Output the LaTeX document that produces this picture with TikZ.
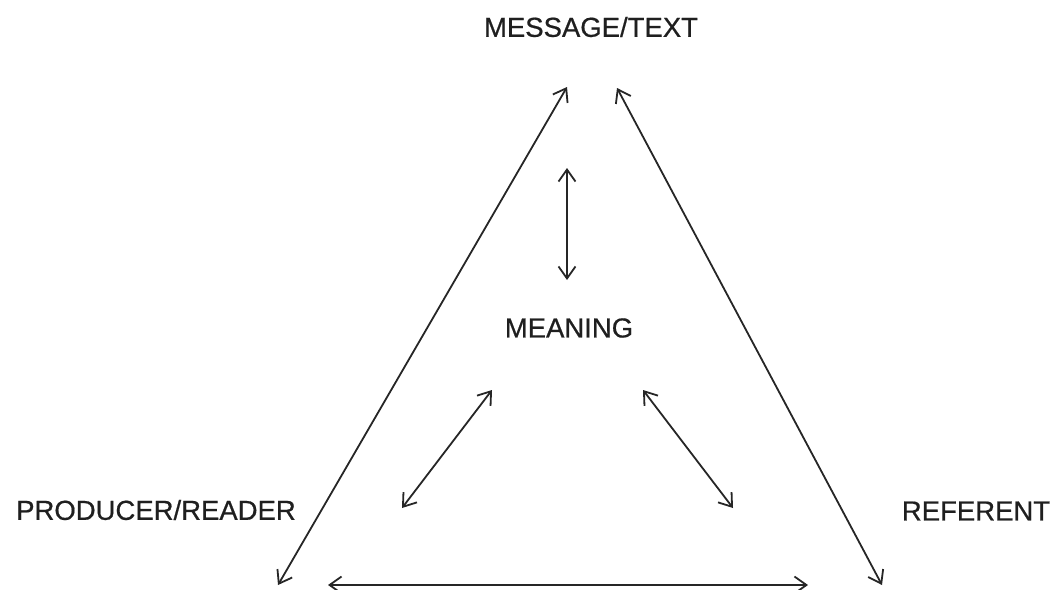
\documentclass[tikz,border=0pt]{standalone}
\usepackage{fontspec}
\setmainfont{Liberation Sans}[FakeBold=0.6]
\usetikzlibrary{arrows.meta}
\begin{document}
\begin{tikzpicture}[x=1pt,y=-1pt,
  lbl/.style={inner sep=0pt, font=\fontsize{27.5}{30}\selectfont, text=black!88},
  link/.style={draw=black!85, line width=1.8pt, {Straight Barb[length=12pt,width=17pt]}-{Straight Barb[length=12pt,width=17pt]}},
  pt/.style={inner sep=0pt, minimum size=0pt}]
\useasboundingbox (0,0) rectangle (1056,589);
\node[lbl] (msg) at (591,27) {MESSAGE/TEXT};
\node[lbl] (mean) at (569,328) {MEANING};
\node[lbl] (prod) at (156,510) {PRODUCER/READER};
\node[lbl] (ref) at (976,511) {REFERENT};
% end points
\coordinate (lt) at (567,87);
\coordinate (lb) at (278,585);
\coordinate (rt) at (617,88);
\coordinate (rb) at (882,585);
\coordinate (vt) at (567,168);
\coordinate (vb) at (567,280);
\coordinate (ilt) at (492,390);
\coordinate (ilb) at (402,508);
\coordinate (irt) at (643,390);
\coordinate (irb) at (733,508);
\coordinate (bl) at (328,585);
\coordinate (br) at (808,585);
\draw[link] (lb) -- (lt);
\draw[link] (rt) -- (rb);
\draw[link] (vt) -- (vb);
\draw[link] (ilb) -- (ilt);
\draw[link] (irt) -- (irb);
\draw[link] (bl) -- (br);
\end{tikzpicture}
\end{document}
